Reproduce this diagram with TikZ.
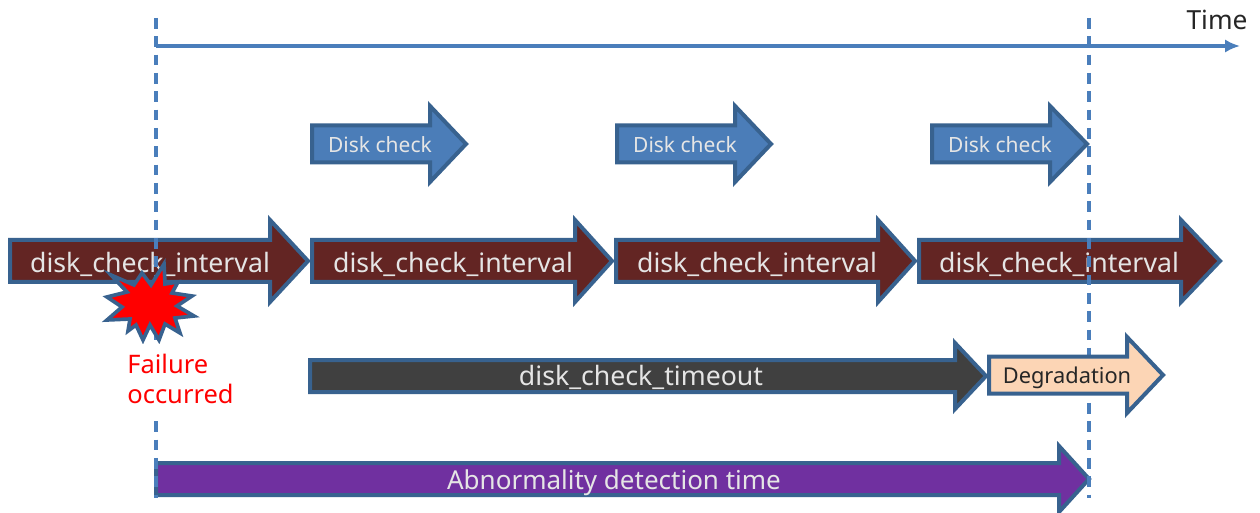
\documentclass[tikz,border=0pt]{standalone}
\usepackage{fontspec}
\setmainfont{Noto Sans}
\usetikzlibrary{arrows.meta}
\definecolor{edgeblue}{HTML}{38628F}
\definecolor{lineblue}{HTML}{4A7EBB}
\definecolor{maroon}{HTML}{632523}
\definecolor{diskblue}{HTML}{4B7DB8}
\definecolor{darkgrey}{HTML}{404040}
\definecolor{peach}{HTML}{FCD5B5}
\definecolor{violet}{HTML}{7030A0}
\tikzset{
  blockedge/.style={draw=edgeblue,line width=2.4pt,line join=miter,miter limit=10},
  guide/.style={draw=lineblue,line width=2pt,dash pattern=on 6.5pt off 4.5pt},
  axisline/.style={draw=lineblue,line width=2pt,-{Latex[length=9pt,width=8pt]}},
  lightlabel/.style={text=white!90!black,inner sep=0pt,anchor=center},
  biglabel/.style={lightlabel,font=\fontsize{16}{18}\selectfont},
  smalllabel/.style={inner sep=0pt,anchor=center,font=\fontsize{12.6}{15}\selectfont},
  faillabel/.style={text=red,fill=white,inner xsep=0pt,inner ysep=6pt,align=left,anchor=north west,font=\fontsize{15.3}{18}\selectfont},
}
% name, x0, neck, tip, yc, half body, half head, fill
\newcommand{\blockarrow}[8]{%
  \draw[blockedge,fill=#8] (#2,#5-#6) -- (#3,#5-#6) -- (#3,#5-#7) -- (#4,#5)
    -- (#3,#5+#7) -- (#3,#5+#6) -- (#2,#5+#6) -- cycle;
  \coordinate (#1) at ({(#2+#3)/2},#5);
}
\begin{document}
\begin{tikzpicture}[x=0.6pt,y=-0.6pt]
\useasboundingbox (0,0) rectangle (1260,513);
\fill[white] (0,0) rectangle (1260,513);
% interval arrows
\blockarrow{i1}{10}{270}{308}{261}{21}{41}{maroon}
\blockarrow{i2}{312}{575}{612}{261}{21}{41}{maroon}
\blockarrow{i3}{616}{878}{915}{261}{21}{41}{maroon}
\blockarrow{i4}{919}{1181}{1220}{261}{21}{41}{maroon}
% detection
\blockarrow{d}{156}{1059}{1089}{479}{16}{33}{violet}
% interval text sits under the star
\node[biglabel] (il1) at (150,264.5) {disk\_check\_interval};
\node[biglabel] (il2) at (453,264.5) {disk\_check\_interval};
\node[biglabel] (il3) at (757,264.5) {disk\_check\_interval};
\node[biglabel] (il4) at (1059,264.5) {disk\_check\_interval};
% time axis and guides
\coordinate (gt1) at (156,18);
\coordinate (gb1) at (156,498);
\coordinate (gt2) at (1089,18);
\coordinate (gb2) at (1089,498);
\coordinate (axs) at (156,46);
\coordinate (axe) at (1240,46);
\draw[guide] (gt1) -- (gb1);
\draw[guide] (gt2) -- (gb2);
\draw[axisline] (axs) -- (axe);
\node[inner sep=0pt,text=black!85,font=\fontsize{15.8}{18}\selectfont] (tm) at (1217,20) {Time};
% disk check
\blockarrow{c1}{312}{430}{466}{144}{18.5}{38}{diskblue}
\blockarrow{c2}{617}{735}{771}{144}{18.5}{38}{diskblue}
\blockarrow{c3}{932}{1050}{1087}{144}{18.5}{38}{diskblue}
% timeout, degradation
\blockarrow{t}{310}{955}{986}{376}{16}{33}{darkgrey}
\blockarrow{g}{989}{1127}{1163}{375}{18.5}{38}{peach}
% failure star
\draw[blockedge,fill=red,line width=2.2pt]
 (111,275) -- (134,285) -- (142,273) -- (151,285) -- (164,264) -- (165,284) -- (178,282)
 -- (172,293) -- (192,296) -- (177,306) -- (194,316) -- (175,318) -- (180,333)
 -- (165,324) -- (159,340) -- (150,325) -- (143,340) -- (136,325) -- (128,331)
 -- (130,319) -- (107,320) -- (122,307) -- (107,297) -- (127,292) -- cycle;
% labels
\node[biglabel] (tl) at (641,377) {disk\_check\_timeout};
\node[lightlabel,font=\fontsize{15.6}{18}\selectfont] (dl) at (614,483) {Abnormality detection time};
\node[smalllabel,text=white!90!black] (cl1) at (380,145) {Disk check};
\node[smalllabel,text=white!90!black] (cl2) at (685,145) {Disk check};
\node[smalllabel,text=white!90!black] (cl3) at (1000,145) {Disk check};
\node[smalllabel,text=black!85,font=\fontsize{13.1}{15}\selectfont] (gl) at (1067,378) {Degradation};
\node[faillabel] (fl) at (127,344) {Failure\\occurred};
\end{tikzpicture}
\end{document}
